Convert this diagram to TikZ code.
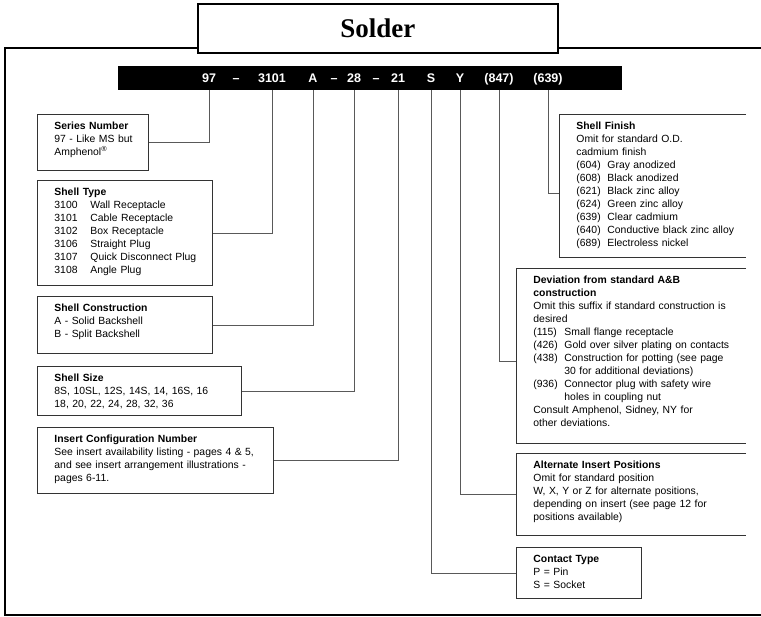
\documentclass[tikz,border=0pt]{standalone}
\usepackage{fontspec}
\setmainfont{Liberation Sans}
\newfontfamily\titlefont{Liberation Serif}
% code column followed by its meaning
\newcommand{\opt}[3][31pt]{\makebox[#1][l]{#2}#3}

\begin{document}
\begin{tikzpicture}[x=1pt,y=-1pt,
  box/.style={draw=boxgray,line width=0.9pt,anchor=north west,align=left,
    inner xsep=0pt,inner ysep=0pt,text height=15pt,
    font=\fontsize{10.4}{13}\selectfont,
    execute at begin node={\leftskip=17pt\rightskip=-40pt plus 1fil}},
  openbox/.style={box,draw=none},
  boxline/.style={draw=boxgray,line width=0.9pt},
  lead/.style={draw=leadgray,line width=0.8pt},
  code/.style={text=white,inner sep=0pt,anchor=base,font=\bfseries\fontsize{12.5}{12.5}\selectfont}]
\colorlet{boxgray}{black!80}
\colorlet{leadgray}{black!65}
\useasboundingbox (0,0) rectangle (761,617);
% outer frame, cut off on the right
\draw[line width=1.6pt] (761,48) -- (5,48) -- (5,615) -- (761,615);
\node[draw,line width=1.6pt,fill=white,anchor=north west,minimum width=360pt,
  minimum height=49pt,font=\titlefont\bfseries\fontsize{27}{27}\selectfont]
  (title) at (197,3) {Solder};
\coordinate (rim) at (746,0);
% the part number
\node[fill=black,anchor=north west,minimum width=504pt,minimum height=24pt,inner sep=0pt]
  (bar) at (118,66) {};
\foreach \x/\t/\n in {209/97/b97,236/\textendash/d1,272/3101/b3101,313/A/bA,
  334/\textendash/d2,354/28/b28,376/\textendash/d3,398/21/b21,431/S/bS,
  460/Y/bY,499/(847)/b847,548/(639)/b639}
  \node[code] (\n) at (\x,82.5) {\t};

% left column
\node[box,text width=111pt,text depth=41pt] (series) at (37,114)
  {\textbf{Series Number}\\
   97 - Like MS but\\
   Amphenol\textsuperscript{\textregistered}};
\node[box,text width=175pt,text depth=90pt] (shelltype) at (37,180)
  {\textbf{Shell Type}\\
   \opt[36pt]{3100}{Wall Receptacle}\\
   \opt[36pt]{3101}{Cable Receptacle}\\
   \opt[36pt]{3102}{Box Receptacle}\\
   \opt[36pt]{3106}{Straight Plug}\\
   \opt[36pt]{3107}{Quick Disconnect Plug}\\
   \opt[36pt]{3108}{Angle Plug}};
\node[box,text width=175pt,text depth=42pt] (shellcon) at (37,296)
  {\textbf{Shell Construction}\\
   A - Solid Backshell\\
   B - Split Backshell};
\node[box,text width=204pt,text depth=34pt] (shellsize) at (37,366)
  {\textbf{Shell Size}\\
   8S, 10SL, 12S, 14S, 14, 16S, 16\\
   18, 20, 22, 24, 28, 32, 36};
\node[box,text width=236pt,text depth=51pt] (insert) at (37,427)
  {\textbf{Insert Configuration Number}\\
   See insert availability listing - pages 4 \& 5,\\
   and see insert arrangement illustrations -\\
   pages 6-11.};

% right column
\node[openbox,text width=187pt,text depth=128pt] (finish) at (559,114)
  {\textbf{Shell Finish}\\
   Omit for standard O.D.\\
   cadmium finish\\
   \opt{(604)}{Gray anodized}\\
   \opt{(608)}{Black anodized}\\
   \opt{(621)}{Black zinc alloy}\\
   \opt{(624)}{Green zinc alloy}\\
   \opt{(639)}{Clear cadmium}\\
   \opt{(640)}{Conductive black zinc alloy}\\
   \opt{(689)}{Electroless nickel}};
\node[openbox,text width=230pt,text depth=160pt] (deviation) at (516,268)
  {\textbf{Deviation from standard A\&B}\\
   \textbf{construction}\\
   Omit this suffix if standard construction is\\
   desired\\
   \opt{(115)}{Small flange receptacle}\\
   \opt{(426)}{Gold over silver plating on contacts}\\
   \opt{(438)}{Construction for potting (see page}\\
   \opt{}{30 for additional deviations)}\\
   \opt{(936)}{Connector plug with safety wire}\\
   \opt{}{holes in coupling nut}\\
   Consult Amphenol, Sidney, NY for\\
   other deviations.};
\node[openbox,text width=230pt,text depth=67pt] (altpos) at (516,453)
  {\textbf{Alternate Insert Positions}\\
   Omit for standard position\\
   W, X, Y or Z for alternate positions,\\
   depending on insert (see page 12 for\\
   positions available)};
\node[box,text width=125pt,text depth=36pt] (contact) at (516,547)
  {\textbf{Contact Type}\\
   P = Pin\\
   S = Socket};
% open right side of the clipped boxes
\foreach \b in {finish,deviation,altpos}
  \draw[boxline] (rim |- \b.north) -- (\b.north west) -- (\b.south west) -- (rim |- \b.south);

% leads from the part number to the boxes
\draw[lead] (bar.south -| b97) |- (series.east);
\draw[lead] (bar.south -| b3101) |- (shelltype.east);
\draw[lead] (bar.south -| bA) |- (shellcon.east);
\draw[lead] (bar.south -| b28) |- (shellsize.east);
\draw[lead] (bar.south -| b21) |- (insert.east);
\draw[lead] (bar.south -| bS) |- (contact.west);
\draw[lead] (bar.south -| bY) |- (altpos.west);
\draw[lead] (bar.south -| b847) |- ([yshift=-5pt]deviation.west);
\draw[lead] (bar.south -| b639) |- ([yshift=-7pt]finish.west);
\end{tikzpicture}
\end{document}
